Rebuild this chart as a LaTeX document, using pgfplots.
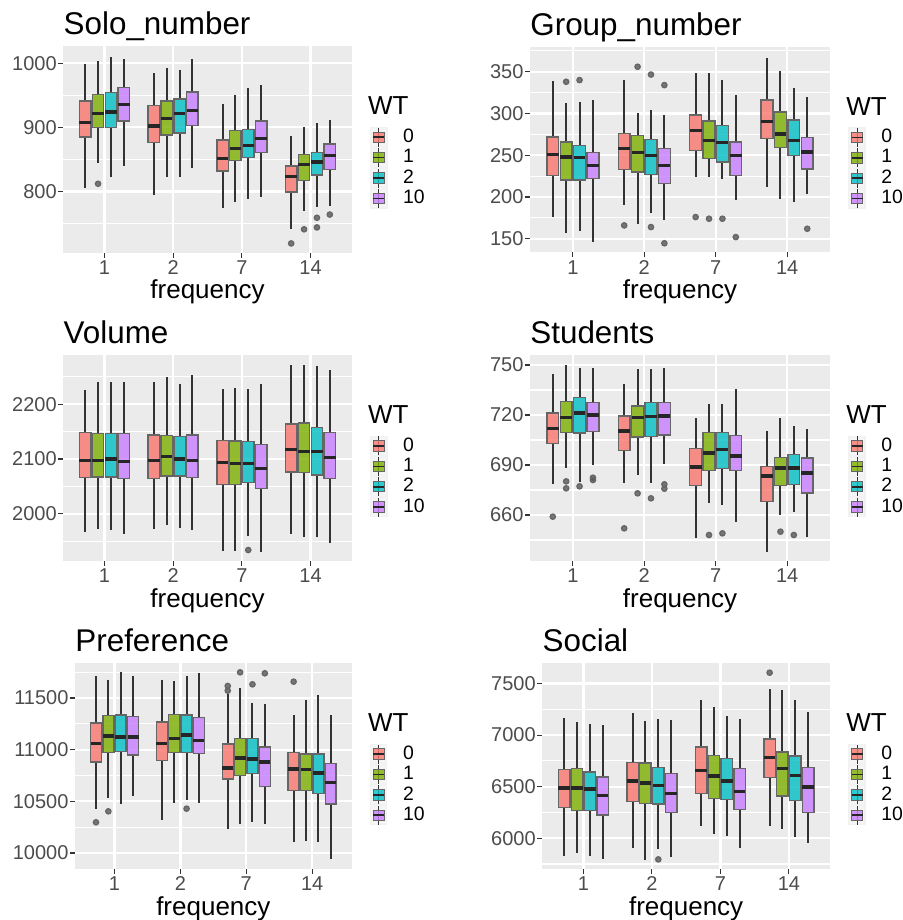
\documentclass[border=0pt]{standalone}
\usepackage{fontspec}
\setmainfont{Liberation Sans}
\usepackage{pgfplots}
\usepackage{pgfplotstable}
\pgfplotsset{compat=1.18}
\usepgfplotslibrary{statistics}

\definecolor{c0}{HTML}{F8766D}
\definecolor{c1}{HTML}{7CAE00}
\definecolor{c2}{HTML}{00BFC4}
\definecolor{c3}{HTML}{C77CFF}
\definecolor{bggray}{HTML}{EBEBEB}

% columns: whiskers, quartiles, median; rows: frequency 1,2,7,14 x WT 0,1,2,10
\pgfplotstableread{
lw lq med uq uw
806 885 908 941 998
845 900 922 951 1003
822 900 924 954 1009
839 910 936 962 1007
795 876 902 934 984
823 888 914 941 993
823 891 921 944 990
836 903 926 955 1007
775 832 852 880 936
783 848 867 895 950
789 853 872 897 961
792 861 883 910 966
742 799 823 840 887
770 817 842 858 900
776 826 846 861 906
778 834 856 874 912
}\Psolo

\pgfplotstableread{
lw lq med uq uw
176.5 226 251 272 339
157 220.5 248 266 312
159 220.5 247 262 314
146 222 238 253 316
190 233 258 276 340
168 230 253 274 301
181 227 250 269 304
172 216 238 258 298
224 256 279.5 298 349
224.5 246 268 291 348
221 242 265.5 286 340
196 225.6 250 266 322
212.5 270 290 316 367
198 259.6 275.5 302 351
194 250 267.6 292 331
204 233.6 254 271 319.5
}\Pgroup

\pgfplotstableread{
lw lq med uq uw
1966 2066 2098 2148 2226
1973 2067 2098 2146 2240
1970 2067 2100 2146 2240
1963 2064 2096 2147 2240
1972 2065 2098 2144 2240
1979 2069 2104 2143 2249
1974 2069 2100 2141 2236
1970 2066 2098 2144 2254
1933 2053 2093 2134 2228
1933 2053 2092 2133 2230
1960 2057 2092 2132 2228
1931 2046 2082 2127 2236
1963 2076 2118 2164 2271
1957 2075 2114 2166 2271
1957 2071 2114 2158 2270
1946 2065 2103 2148 2262
}\Pvolume

\pgfplotstableread{
lw lq med uq uw
678.4 702.8 712 721.2 744.4
688.4 709.6 718.4 728 750
680 709.2 721.2 730.6 748
690 710 720 727.4 748
679 698.8 710.4 719.4 738.4
684 706.8 718.4 725.4 747.6
679.4 707.2 719 727.4 747.6
690.8 708 719.4 727.4 748
646 677.6 688.8 700 718.4
667 686.8 697.2 709.4 726.4
666.2 688 699.4 709.4 726.4
656 686.8 695.4 707.6 735.6
638 668 683.4 689 710.4
660 677.8 688.2 694.4 718
662 678.2 688.2 696.4 713.4
647 673.2 685.2 694.2 711.6
}\Pstudents

\pgfplotstableread{
lw lq med uq uw
10429 10881 11058 11258 11713
10535 10971 11132 11332 11674
10477 10984 11123 11335 11748
10555 10948 11123 11323 11713
10319 10897 11058 11268 11674
10484 10971 11110 11339 11665
10516 10974 11142 11335 11713
10484 10965 11087 11310 11739
10229 10716 10823 11055 11539
10281 10752 10919 11110 11594
10303 10771 10910 11106 11455
10277 10645 10881 11026 11445
10103 10606 10813 10974 11335
10119 10606 10810 10958 11481
10103 10577 10774 10958 11532
9939 10474 10684 10868 11335
}\Ppref

\pgfplotstableread{
lw lq med uq uw
5828 6296 6487 6665 7163
5854 6271 6487 6675 7127
5831 6271 6477 6642 7108
5799 6225 6416 6594 7095
5909 6355 6555 6736 7211
5789 6338 6536 6730 7137
5896 6332 6513 6688 7153
5821 6251 6435 6626 7143
6122 6435 6655 6885 7337
6044 6387 6603 6804 7269
6025 6377 6555 6772 7182
5909 6280 6455 6675 7153
6122 6591 6784 6962 7444
6093 6410 6678 6836 7434
6015 6368 6607 6797 7337
5951 6251 6497 6684 7224
}\Psocial

\pgfplotsset{
  s0/.style={fill=c0}, s1/.style={fill=c1}, s2/.style={fill=c2}, s3/.style={fill=c3},
  lg/.style={legend image code/.code={
      \fill[black!5] (0bp,-4.75bp) rectangle (8bp,4.75bp);
      \draw[black!80, line width=0.5bp] (4bp,-4.75bp) -- (4bp,4.75bp);
      \draw[fill=#1, fill opacity=0.8, draw=black!60, line width=0.5bp] (1.2bp,-2.6bp) rectangle (6.8bp,2.6bp);
      \draw[black!85, line width=0.8bp] (1.2bp,0bp) -- (6.8bp,0bp);
  }},
  outl/.style={only marks, mark=*, mark size=1.3bp, mark options={draw=none, fill=black!65}, forget plot},
  gg/.style={
    scale only axis,
    anchor=north west,
    xmin=-0.6, xmax=3.6,
    xtick={0,1,2,3}, xticklabels={1,2,7,14},
    xtick pos=bottom, ytick pos=left,
    axis background/.style={fill=bggray},
    axis line style={draw=none},
    tick align=outside,
    major tick length=2.5bp,
    minor tick length=0pt,
    tick style={draw=black!80, line width=0.55bp},
    xmajorgrids, ymajorgrids, yminorgrids,
    major grid style={white, line width=1.1bp},
    minor grid style={white, line width=0.55bp},
    ticklabel style={font=\fontsize{10bp}{12bp}\selectfont, text=black!70},
    xticklabel style={inner sep=1.3bp},
    yticklabel style={inner sep=0.6bp},
    /pgf/number format/assume math mode=true,
    /pgf/number format/1000 sep={},
    scaled y ticks=false,
    xlabel={frequency},
    xlabel style={font=\fontsize{13bp}{15bp}\selectfont, at={(axis description cs:0.5,0)}, anchor=base, yshift=-23bp, inner sep=0pt},
    title style={font=\fontsize{15.7bp}{18bp}\selectfont, at={(axis description cs:0,1)}, anchor=base west, yshift=-0.2bp, inner sep=0pt},
    legend style={at={(axis description cs:1,0.5)}, anchor=west, xshift=9bp, yshift=-9.25bp,
      draw=none, fill=none, inner sep=0pt, row sep=0pt, column sep=7.8bp,
      font=\fontsize{9.7bp}{11bp}\selectfont, nodes={inner sep=0pt}},
    legend cell align=left,
    boxplot/draw direction=y,
    boxplot/box extend=0.166,
    boxplot/whisker extend=0,
    boxplot/every whisker/.style={draw=black!80, line width=1bp},
    boxplot/every median/.style={draw=black!85, line width=1.6bp},
    every axis plot/.append style={draw=black!60, line width=0.7bp, fill opacity=0.8},
    after end axis/.append code={
      \node[anchor=base west, inner sep=0pt, xshift=8bp, yshift=17.25bp, font=\fontsize{13bp}{15bp}\selectfont]
        at (axis description cs:1,0.5) {WT};
    },
  },
}

% one box: table, row, WT series, draw position
\newcommand{\bx}[4]{%
  \pgfplotstablegetelem{#2}{lw}\of#1\let\LW\pgfplotsretval
  \pgfplotstablegetelem{#2}{lq}\of#1\let\LQ\pgfplotsretval
  \pgfplotstablegetelem{#2}{med}\of#1\let\MED\pgfplotsretval
  \pgfplotstablegetelem{#2}{uq}\of#1\let\UQ\pgfplotsretval
  \pgfplotstablegetelem{#2}{uw}\of#1\let\UW\pgfplotsretval
  \pgfmathsetmacro\POS{#4}%
  \edef\doplot{\noexpand\addplot[s#3, forget plot,
    boxplot prepared={draw position=\POS, lower whisker=\LW, lower quartile=\LQ,
      median=\MED, upper quartile=\UQ, upper whisker=\UW}] coordinates {};}%
  \doplot}
\newcommand{\grp}[2]{%
  \bx{#1}{\the\numexpr4*#2\relax}{0}{#2-0.28125}
  \bx{#1}{\the\numexpr4*#2+1\relax}{1}{#2-0.09375}
  \bx{#1}{\the\numexpr4*#2+2\relax}{2}{#2+0.09375}
  \bx{#1}{\the\numexpr4*#2+3\relax}{3}{#2+0.28125}}
\newcommand{\allgrp}[1]{\grp{#1}{0}\grp{#1}{1}\grp{#1}{2}\grp{#1}{3}}
\newcommand{\wtlegend}{%
  \addlegendimage{lg=c0}\addlegendentry{0}
  \addlegendimage{lg=c1}\addlegendentry{1}
  \addlegendimage{lg=c2}\addlegendentry{2}
  \addlegendimage{lg=c3}\addlegendentry{10}}

\begin{document}
\begin{tikzpicture}
\useasboundingbox (0,0) rectangle (451.5bp,-460bp);

% Solo_number
\begin{axis}[gg, at={(31.65bp,-23bp)}, width=144.2bp, height=103.3bp,
  title={Solo\_number}, ymin=704.7, ymax=1026.8,
  ytick={800,900,1000}, minor ytick={750,850,950}]
  \wtlegend
  \allgrp{\Psolo}
  \addplot[outl] coordinates {(-0.09375,812) (2.71875,719) (2.90625,741)
    (3.09375,759) (3.09375,744) (3.28125,764)};
\end{axis}

% Group_number
\begin{axis}[gg, at={(265bp,-23.35bp)}, width=150bp, height=102.8bp,
  title={Group\_number}, ymin=133.8, ymax=380,
  ytick={150,200,250,300,350}, minor ytick={175,225,275,325,375}]
  \wtlegend
  \allgrp{\Pgroup}
  \addplot[outl] coordinates {(-0.09375,338) (0.09375,340) (0.71875,166)
    (0.90625,356) (1.09375,346.6) (1.09375,164) (1.28125,334) (1.28125,144.6)
    (1.71875,176) (1.90625,174) (2.09375,174) (2.28125,152) (3.28125,162)};
\end{axis}

% Volume
\begin{axis}[gg, at={(31.65bp,-177.5bp)}, width=144.2bp, height=103bp,
  title={Volume}, ymin=1914, ymax=2289.7,
  ytick={2000,2100,2200}, minor ytick={1950,2050,2150,2250}]
  \wtlegend
  \allgrp{\Pvolume}
  \addplot[outl] coordinates {(2.09375,1934)};
\end{axis}

% Students
\begin{axis}[gg, at={(265bp,-177.5bp)}, width=150bp, height=103bp,
  title={Students}, ymin=632.4, ymax=756,
  ytick={660,690,720,750}, minor ytick={645,675,705,735}]
  \wtlegend
  \allgrp{\Pstudents}
  \addplot[outl] coordinates {(-0.28125,659) (-0.09375,680.2) (-0.09375,676)
    (0.09375,677.2) (0.28125,682.4) (0.28125,681) (0.71875,652) (0.90625,673)
    (1.09375,670) (1.28125,678.4) (1.28125,675.8) (1.90625,648) (2.09375,649)
    (2.90625,650) (3.09375,648)};
\end{axis}

% Preference
\begin{axis}[gg, at={(37.5bp,-331.65bp)}, width=138.35bp, height=102.85bp,
  title={Preference}, ymin=9845, ymax=11835.5,
  ytick={10000,10500,11000,11500}, minor ytick={10250,10750,11250,11750}]
  \wtlegend
  \allgrp{\Ppref}
  \addplot[outl] coordinates {(-0.28125,10297) (-0.09375,10403) (1.09375,10429)
    (1.71875,11616) (1.71875,11571) (1.90625,11748) (2.09375,11632)
    (2.28125,11739) (2.71875,11658)};
\end{axis}

% Social
\begin{axis}[gg, at={(271.15bp,-331.65bp)}, width=143.85bp, height=102.85bp,
  title={Social}, ymin=5701.7, ymax=7695.8,
  ytick={6000,6500,7000,7500}, minor ytick={5750,6250,6750,7250}]
  \wtlegend
  \allgrp{\Psocial}
  \addplot[outl] coordinates {(1.09375,5795) (2.71875,7605)};
\end{axis}
\end{tikzpicture}
\end{document}
